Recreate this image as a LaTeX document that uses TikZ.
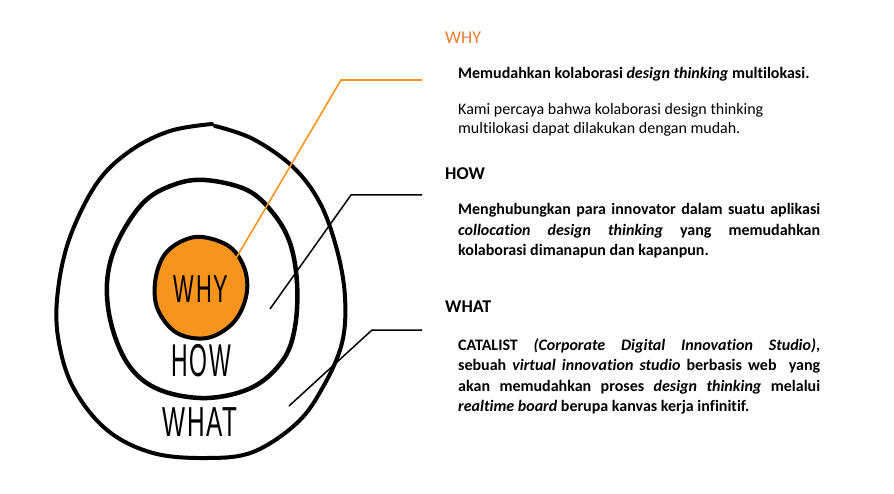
\documentclass[tikz,border=0pt]{standalone}
\usepackage{fontspec}
\setmainfont{Carlito}[Ligatures=NoCommon]
\newfontfamily\handfont{Liberation Sans}[LetterSpace=8]
\definecolor{ringorange}{HTML}{F7941D}
\definecolor{headorange}{HTML}{ED7D31}
\definecolor{ink}{HTML}{000000}
\tikzset{
  ring/.style={draw=ink, line width=4.5pt, line cap=round, line join=round},
  leader/.style={draw=ink, line width=1.5pt},
  whyleader/.style={draw=ringorange, line width=1.6pt},
  handlabel/.style={inner sep=0pt, text=ink},
  heading/.style={anchor=base west, inner sep=0pt, font=\fontsize{18}{22}\selectfont},
  para/.style={anchor=base west, inner sep=0pt},
}
\begin{document}
\begin{tikzpicture}[x=1pt,y=-1pt]
\useasboundingbox (0,0) rectangle (894,494);

% outer ring (open at the top, hand-drawn look)
\draw[ring, line width=4pt] plot[smooth, tension=0.6] coordinates {
  (215,126) (253,139) (293,167) (320,203) (337,250) (345,297) (342,343)
  (323,387) (297,423) (253,452) (207,458) (153,453) (107,430) (73,387)
  (58,337) (58,290) (70,237) (97,183) (130,151) (170,131) (212,124)};

% middle ring
\draw[ring] plot[smooth cycle, tension=0.6] coordinates {
  (205,180) (247,190) (273,213) (290,243) (297,283) (295,327) (283,360)
  (253,387) (207,398) (160,390) (130,367) (112,327) (107,283) (117,243)
  (143,203) (173,185)};

% inner core
\draw[ring, line width=4pt, fill=ringorange] plot[smooth cycle, tension=0.6] coordinates {
  (202,237) (230,247) (245,270) (246,297) (233,323) (207,338) (177,333)
  (158,310) (155,283) (163,257) (180,242)};

% hand-lettered labels
\node[handlabel, xscale=0.56, font=\handfont\fontsize{39}{40}\selectfont] (lwhy) at (201,289) {WHY};
\node[handlabel, xscale=0.50, font=\handfont\fontsize{46}{48}\selectfont] (lhow) at (201,361) {HOW};
\node[handlabel, xscale=0.58, font=\handfont\fontsize{42}{44}\selectfont] (lwhat) at (200,422) {WHAT};

% leader lines
\coordinate (whyStart) at (235,260);
\coordinate (whyBend) at (341,80);
\coordinate (whyTip) at (422,80);
\coordinate (howStart) at (270,309);
\coordinate (howBend) at (351,195);
\coordinate (howTip) at (422,195);
\coordinate (whatStart) at (289,406);
\coordinate (whatBend) at (372,330);
\coordinate (whatTip) at (422,330);
\draw[whyleader] (whyStart) -- (whyBend) -- (whyTip);
\draw[leader] (howStart) -- (howBend) -- (howTip);
\draw[leader] (whatStart) -- (whatBend) -- (whatTip);

% headings
\node[heading, text=headorange] (hwhy) at (445,44) {WHY};
\node[heading, font=\fontsize{18}{22}\selectfont\bfseries] (hhow) at (445,180) {HOW};
\node[heading, font=\fontsize{18}{22}\selectfont\bfseries] (hwhat) at (445,312.7) {WHAT};

% descriptions
\node[para, font=\fontsize{16}{19.7}\selectfont] (twhyhead) at (458,78.3)
  {\textbf{Memudahkan kolaborasi \textit{design thinking} multilokasi.}};
\node[para, font=\fontsize{16}{19.7}\selectfont] (twhy) at (458,114.3)
  {\parbox[t]{362pt}{\raggedright Kami percaya bahwa kolaborasi design thinking\\
   multilokasi dapat dilakukan dengan mudah.}};
\node[para, font=\fontsize{16}{20.5}\selectfont] (thow) at (458,215)
  {\parbox[t]{362pt}{\bfseries\tolerance=10000\hyphenpenalty=10000
   Menghubungkan para innovator dalam suatu aplikasi\linebreak
   \textit{collocation design thinking} yang memudahkan\linebreak
   kolaborasi dimanapun dan kapanpun.}};
\node[para, font=\fontsize{16}{20.5}\selectfont] (twhat) at (458,350)
  {\parbox[t]{362pt}{\bfseries\tolerance=10000\hyphenpenalty=10000
   CATALIST \textit{(Corporate Digital Innovation Studio)},\linebreak
   sebuah \textit{virtual innovation studio} berbasis web\ \ yang\linebreak
   akan memudahkan proses \textit{design thinking} melalui\linebreak
   \textit{realtime board} berupa kanvas kerja infinitif.}};
\end{tikzpicture}
\end{document}
